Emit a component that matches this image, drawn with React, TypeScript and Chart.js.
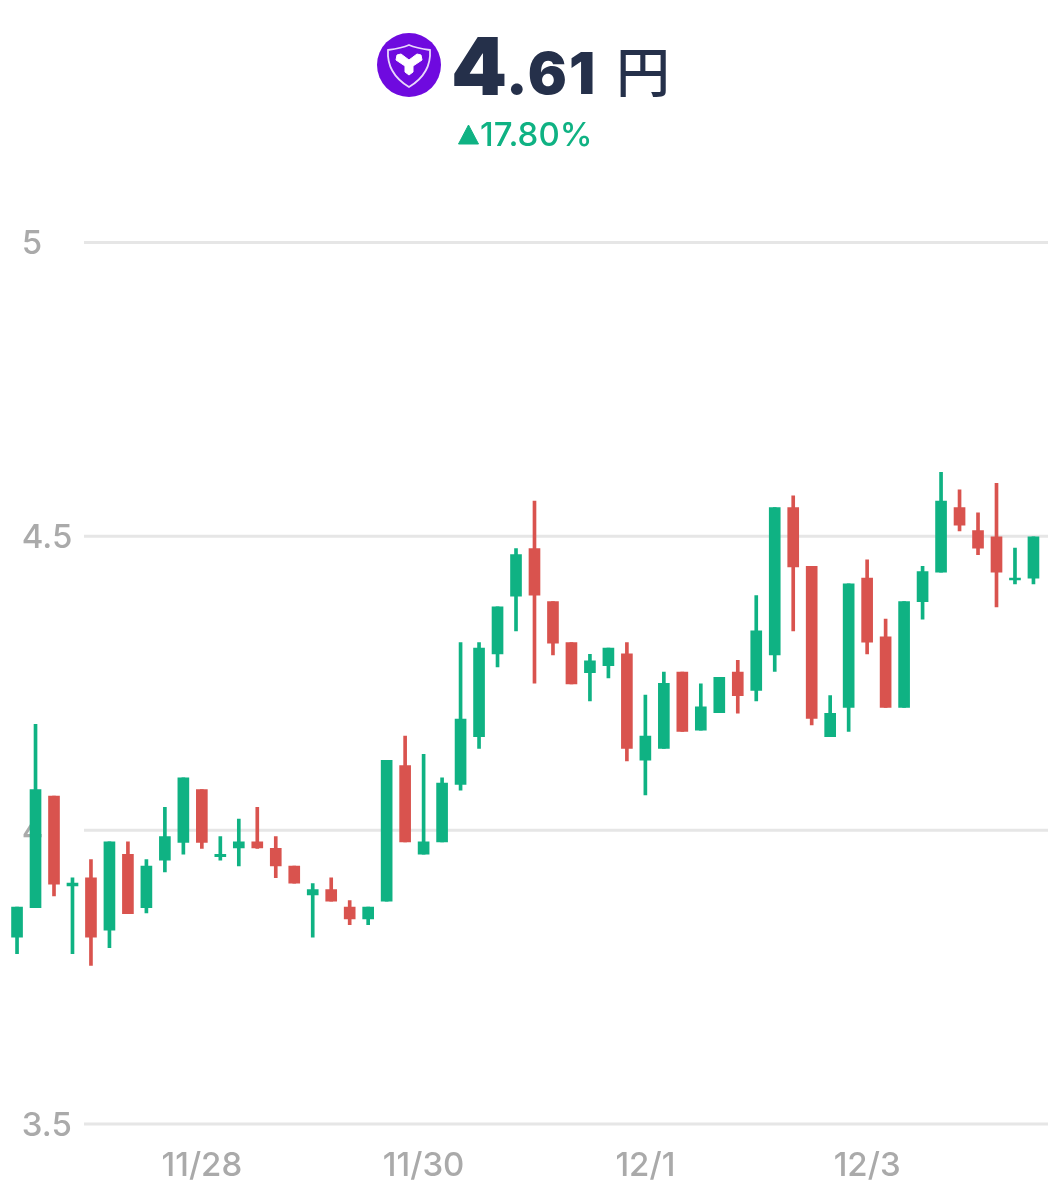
import React, { useEffect, useRef } from "react";
import { Chart, registerables } from "chart.js";

Chart.register(...registerables);

const categories = [
  "", "", "", "", "", "", "", "", "", "", "11/28", "", "", "", "",
  "", "", "", "", "", "", "", "11/30", "", "", "", "", "", "", "",
  "", "", "", "", "12/1", "", "", "", "", "", "", "", "", "", "",
  "", "12/3", "", "", "", "", "", "", "", "", "",
];
const opens = [
  3.818, 3.868, 4.058, 3.905, 3.919, 3.83, 3.959, 3.868, 3.949, 3.979, 4.069, 3.955, 3.97, 3.98,
  3.969, 3.939, 3.89, 3.899, 3.869, 3.849, 3.879, 4.11, 3.959, 3.98, 4.078, 4.159, 4.3, 4.398,
  4.479, 4.389, 4.319, 4.268, 4.28, 4.3, 4.119, 4.139, 4.269, 4.17, 4.2, 4.269, 4.238, 4.298,
  4.549, 4.449, 4.159, 4.209, 4.429, 4.329, 4.209, 4.389, 4.439, 4.549, 4.51, 4.499, 4.426, 4.429,
];
const closes = [
  3.869, 4.069, 3.908, 3.91, 3.818, 3.98, 3.858, 3.939, 3.989, 4.089, 3.979, 3.959, 3.98, 3.97,
  3.939, 3.91, 3.899, 3.879, 3.849, 3.869, 4.119, 3.98, 3.98, 4.08, 4.189, 4.31, 4.38, 4.469,
  4.4, 4.318, 4.249, 4.288, 4.31, 4.139, 4.16, 4.25, 4.168, 4.21, 4.26, 4.229, 4.339, 4.549,
  4.448, 4.19, 4.199, 4.419, 4.32, 4.209, 4.389, 4.44, 4.56, 4.519, 4.48, 4.439, 4.429, 4.499,
];
const highs = [
  3.869, 4.18, 4.058, 3.919, 3.95, 3.98, 3.98, 3.95, 4.039, 4.089, 4.069, 3.989, 4.019, 4.039,
  3.989, 3.939, 3.909, 3.919, 3.88, 3.869, 4.119, 4.16, 4.129, 4.089, 4.319, 4.319, 4.38, 4.479,
  4.56, 4.389, 4.319, 4.299, 4.31, 4.319, 4.23, 4.269, 4.269, 4.249, 4.26, 4.289, 4.399, 4.549,
  4.569, 4.449, 4.229, 4.419, 4.46, 4.359, 4.389, 4.449, 4.609, 4.579, 4.54, 4.59, 4.48, 4.499,
];
const lows = [
  3.79, 3.868, 3.888, 3.79, 3.77, 3.8, 3.858, 3.859, 3.929, 3.959, 3.969, 3.949, 3.939, 3.969,
  3.919, 3.91, 3.818, 3.879, 3.839, 3.839, 3.879, 3.98, 3.959, 3.98, 4.068, 4.139, 4.278, 4.339,
  4.25, 4.298, 4.249, 4.22, 4.259, 4.118, 4.06, 4.139, 4.168, 4.17, 4.2, 4.199, 4.22, 4.27,
  4.339, 4.179, 4.159, 4.168, 4.3, 4.209, 4.209, 4.359, 4.439, 4.509, 4.469, 4.38, 4.419, 4.419,
];
const yTicks = { min: 3.5, max: 5, step: 0.5 };
const priceWhole = "4";
const priceFraction = ".61";
const priceUnit = "円";
const changeText = "17.80%";

const GREEN = "#0fb283";
const RED = "#d9534e";
const GRID = "#e6e6e6";
const TICK = "#aaaaaa";
const NAVY = "#25304a";
const FONT = "Inter, Roboto, sans-serif";

const sideGrid = {
  id: "sideGrid",
  beforeDatasetsDraw(chart: any) {
    const { ctx, width, scales } = chart;
    ctx.save();
    ctx.strokeStyle = GRID;
    ctx.lineWidth = 3;
    for (const t of scales.y.ticks) {
      const py = scales.y.getPixelForValue(t.value);
      ctx.beginPath();
      ctx.moveTo(84, py);
      ctx.lineTo(width, py);
      ctx.stroke();
    }
    ctx.restore();
  },
};

export default function App() {
  const ref = useRef<HTMLCanvasElement>(null);
  useEffect(() => {
    document.body.style.margin = "0";
    const colors = opens.map((o, i) => (closes[i] >= o ? GREEN : RED));
    const chart = new Chart(ref.current!, {
      type: "bar",
      data: {
        labels: categories,
        datasets: [
          {
            label: "body",
            data: opens.map((o, i) => [o, closes[i]]),
            backgroundColor: colors,
            barThickness: 11,
            grouped: false,
            borderWidth: 0,
          } as any,
          {
            label: "wick",
            data: lows.map((l, i) => [l, highs[i]]),
            backgroundColor: colors,
            barThickness: 3,
            grouped: false,
            borderWidth: 0,
          } as any,
        ],
      },
      plugins: [sideGrid],
      options: {
        animation: false,
        responsive: false,
        maintainAspectRatio: false,
        layout: { padding: { left: 7.8, right: 5.3, top: 242.5, bottom: 0 } },
        plugins: { legend: { display: false }, tooltip: { enabled: false } },
        scales: {
          x: {
            grid: { display: false, drawTicks: false },
            border: { display: false },
            afterFit: (s: any) => {
              s.height = 76;
              s.paddingLeft = 0;
              s.paddingRight = 0;
            },
            ticks: {
              autoSkip: false,
              maxRotation: 0,
              minRotation: 0,
              padding: 22,
              color: TICK,
              font: { family: FONT, size: 33, weight: 500 },
            },
          },
          y: {
            min: yTicks.min,
            max: yTicks.max,
            grid: { display: false, drawTicks: false },
            border: { display: false },
            afterFit: (s: any) => {
              s.width = 0;
            },
            ticks: {
              stepSize: yTicks.step,
              mirror: true,
              padding: 14,
              labelOffset: 2,
              color: TICK,
              font: { family: FONT, size: 33, weight: 500 },
              callback: (v: any) => String(Number(v)),
            },
          },
        },
      },
    });
    return () => chart.destroy();
  }, []);

  const abs = (s: React.CSSProperties): React.CSSProperties => ({
    position: "absolute",
    whiteSpace: "nowrap",
    lineHeight: 1,
    ...s,
  });

  return (
    <div style={{ position: "relative", width: 1048, height: 1200, background: "#fff", overflow: "hidden" }}>
      <canvas ref={ref} width={1048} height={1200} style={{ display: "block" }} />
      <svg style={{ position: "absolute", left: 377, top: 33 }} width={64} height={64} viewBox="0 0 64 64">
        <circle cx={32} cy={32} r={32} fill="#6f0adf" />
        <path d="M32 12 C39 15 46 16 53 17 C54 32 47 45 32 54 C17 45 10 32 11 17 C18 16 25 15 32 12 Z" fill="none" stroke="#e9d8fb" strokeWidth={1.8} />
        <path d="M32 27 L24 21 L20 22 L19 27 L28 33 L28 39 L32 42 L36 39 L36 33 L45 27 L44 22 L40 21 Z" fill="#fff" stroke="#fff" strokeWidth={1} strokeLinejoin="round" />
      </svg>
      <div style={abs({ left: 451, top: 26, fontFamily: FONT, fontWeight: 900, fontSize: 80, color: NAVY })}>{priceWhole}</div>
      <div style={abs({ left: 506, top: 44, fontFamily: FONT, fontWeight: 900, fontSize: 58, letterSpacing: 2, color: NAVY })}>{priceFraction}</div>
      <div style={abs({ left: 616, top: 43, fontFamily: "'Noto Sans CJK JP'", fontWeight: 500, fontSize: 54, color: NAVY })}>{priceUnit}</div>
      <svg style={{ position: "absolute", left: 458, top: 124 }} width={21} height={21} viewBox="0 0 21 21">
        <path d="M10.5 1 L20.5 20 L0.5 20 Z" fill={GREEN} stroke={GREEN} strokeWidth={1} strokeLinejoin="round" />
      </svg>
      <div style={abs({ left: 480, top: 118, fontFamily: FONT, fontWeight: 500, fontSize: 33, color: GREEN })}>{changeText}</div>
    </div>
  );
}
